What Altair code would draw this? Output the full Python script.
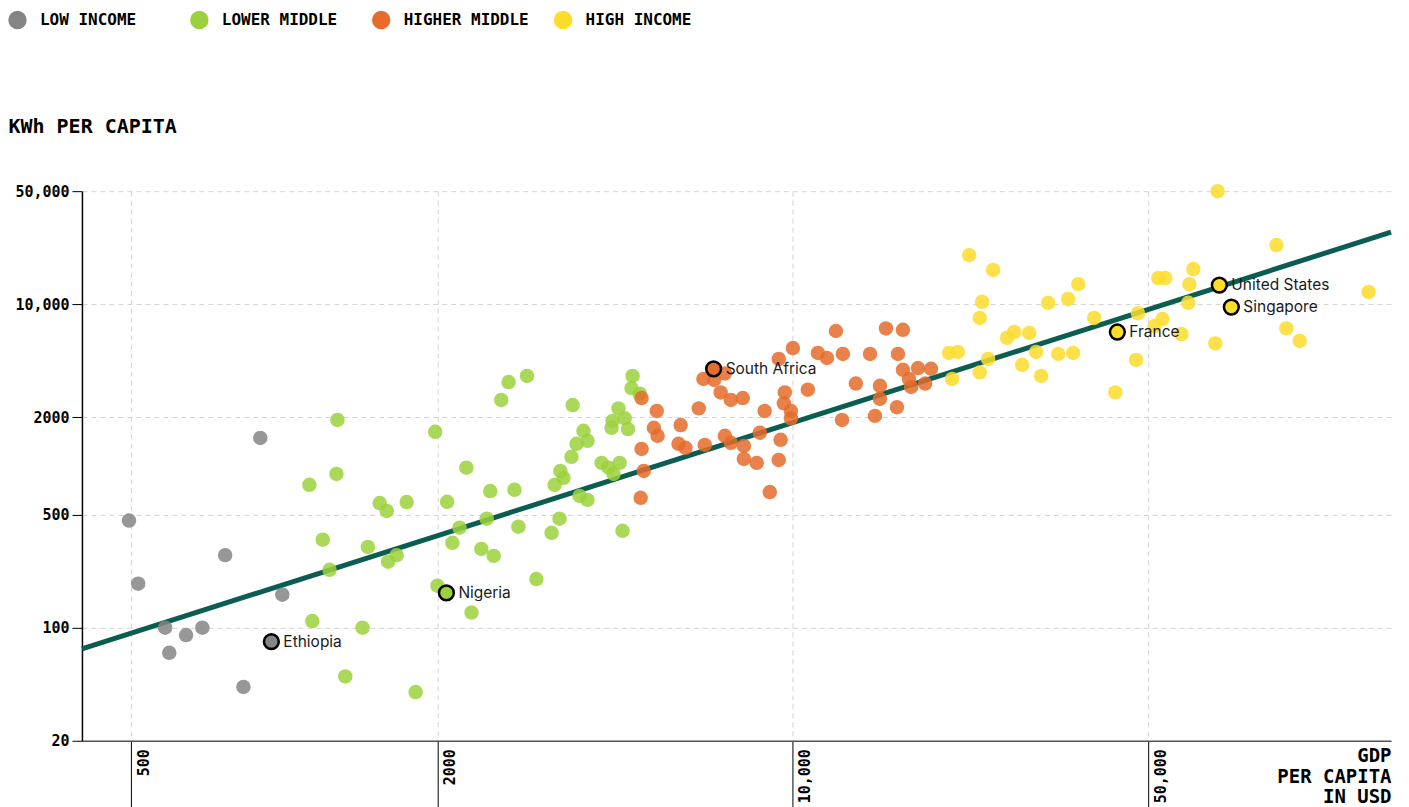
import altair as alt
import pandas as pd

MONO = "DejaVu Sans Mono"
SANS = "Inter"

groups = ["LOW INCOME", "LOWER MIDDLE", "HIGHER MIDDLE", "HIGH INCOME"]
group_colors = ["#858585", "#9bd13c", "#e56c2a", "#fddc2a"]

# GDP per capita (USD) and electricity use (kWh per capita)
low_gdp = [495, 516, 583, 641, 690, 594, 765, 831, 897, 991]
low_kwh = [460, 187, 100, 90, 100, 70, 281, 43, 1490, 160]

lowmid_gdp = [1272, 1980, 2760, 2670, 3000, 2280, 1266, 1120, 1540, 1590,
              1740, 2090, 2540, 2835, 2500, 2210, 2886, 1190, 1460, 1227,
              1600, 1663, 2140, 2000, 2440, 2580, 2334, 1135, 1425, 1318,
              1812, 3690, 4840, 4815, 5000, 4540, 4420, 4670, 4400, 4740,
              3874, 3946, 3755, 3670, 4206, 4342, 4565, 4440, 3490, 3540,
              3400, 3808, 3946, 3476, 3354, 4624, 3130]
lowmid_kwh = [1926, 1625, 3300, 2560, 3600, 975, 893, 765, 590, 527,
              598, 600, 700, 712, 472, 415, 421, 350, 316, 228,
              256, 281, 335, 182, 307, 278, 124, 110, 100, 50,
              40, 2380, 3600, 3030, 2800, 2270, 1900, 1970, 1720, 1690,
              1650, 1430, 1370, 1140, 1045, 975, 1045, 893, 932, 845,
              764, 653, 617, 472, 386, 397, 200]

highmid_gdp = [5040, 5400, 5330, 5420, 5040, 5090, 5020, 6016, 5960, 6150,
               6530, 6710, 6670, 7000, 7350, 7210, 7550, 7970, 7350, 7550,
               8010, 8010, 8490, 8800, 8610, 9008, 9380, 10000, 9640, 9600,
               9910, 9910, 9460, 9380, 10700, 11200, 12150, 11670, 12540, 14180,
               15240, 16460, 16090, 16460, 17620, 18690, 16920, 17080, 18200, 14830,
               14830, 13300, 16020, 14500, 12490]
highmid_kwh = [2630, 2190, 1720, 1535, 1275, 932, 635, 1790, 1370, 1295,
               2270, 1350, 3450, 3400, 3730, 2850, 2560, 2630, 1535, 1390,
               1330, 1105, 1045, 2190, 1605, 690, 4590, 5360, 2850, 2440,
               2190, 1970, 1450, 1090, 2960, 5000, 6830, 4650, 4930, 4930,
               7080, 6950, 4930, 3930, 4030, 3990, 3450, 3080, 3230, 3130,
               2600, 3230, 2310, 2040, 1926]

high_gdp = [22210, 24760, 23550, 23300, 36400, 34770, 31770, 39130, 47700, 27230,
            26370, 29150, 20280, 21100, 24200, 30080, 33250, 35570, 20560, 23300,
            28230, 30770, 47300, 43050, 68400, 89300, 61300, 52300, 54000, 60200,
            59900, 135500, 53300, 51400, 58080, 93400, 99200, 67700]
high_kwh = [20100, 16300, 10340, 8220, 13300, 10780, 10200, 8220, 8800, 6740,
            6200, 6640, 5000, 5070, 4590, 5070, 4930, 5000, 3450, 3790,
            4220, 3600, 4520, 2850, 50000, 23200, 16500, 14500, 14500, 13300,
            10200, 11900, 8100, 7330, 6540, 7090, 5930, 5720]

# Highlighted countries
lab_names = ["Ethiopia", "Nigeria", "South Africa", "France", "United States", "Singapore"]
lab_gdp = [943, 2083, 6985, 43450, 68950, 72800]
lab_kwh = [82, 164, 3980, 6730, 13130, 9600]
lab_group = ["LOW INCOME", "LOWER MIDDLE", "HIGHER MIDDLE", "HIGH INCOME", "HIGH INCOME", "HIGH INCOME"]

# Trend line end points
trend_gdp = [400, 150000]
trend_kwh = [74, 27900]

rows = []
for g, xs, ys in [(groups[0], low_gdp, low_kwh), (groups[1], lowmid_gdp, lowmid_kwh),
                  (groups[2], highmid_gdp, highmid_kwh), (groups[3], high_gdp, high_kwh)]:
    for a, b in zip(xs, ys):
        rows.append({"gdp": a, "kwh": b, "group": g})
df = pd.DataFrame(rows)
lab_df = pd.DataFrame({"name": lab_names, "gdp": lab_gdp, "kwh": lab_kwh, "group": lab_group})
trend_df = pd.DataFrame({"gdp": trend_gdp, "kwh": trend_kwh})

W, H = 1310, 550
num_expr = "datum.value >= 10000 ? format(datum.value, ',') : format(datum.value, 'd')"

xscale = alt.Scale(type="log", domain=[400, 150000], nice=False)
yscale = alt.Scale(type="log", domain=[20, 50000], nice=False)
cscale = alt.Scale(domain=groups, range=group_colors)

x_axis = alt.Axis(
    values=[500, 2000, 10000, 50000], labelExpr=num_expr,
    labelAngle=-90, labelAlign="right", labelBaseline="middle", labelOffset=12,
    labelPadding=-62, tickSize=70, tickColor="black", tickWidth=1,
    domainColor="#555555", domainWidth=1.5,
    grid=True, gridDash=[5, 4], gridColor="#d4d4d4", gridWidth=1,
    labelFont=MONO, labelFontSize=15, labelFontWeight="bold", labelColor="black",
    title=["GDP", "PER CAPITA", "IN USD"], titleAngle=0, titleAlign="right",
    titleBaseline="top", titleX=W, titleY=6, titleLineHeight=20.5,
    titleFont=MONO, titleFontSize=19, titleFontWeight="bold", titleColor="black",
)
y_axis = alt.Axis(
    values=[20, 100, 500, 2000, 10000, 50000], labelExpr=num_expr,
    tickSize=10, tickColor="black", domainColor="black", domainWidth=1.5,
    labelPadding=3,
    grid=True, gridDash=[5, 4], gridColor="#d4d4d4", gridWidth=1,
    labelFont=MONO, labelFontSize=15, labelFontWeight="bold", labelColor="black",
    title="KWh PER CAPITA", titleAngle=0, titleAlign="left", titleBaseline="middle",
    titleX=-74, titleY=-65,
    titleFont=MONO, titleFontSize=20, titleFontWeight="bold", titleColor="black",
)

legend = alt.Legend(
    title=None, orient="none", legendX=-74, legendY=-181, direction="horizontal",
    symbolType="circle", symbolSize=340, symbolOpacity=1, symbolStrokeWidth=0,
    labelFont=MONO, labelFontSize=16, labelFontWeight="bold", labelColor="black",
    labelOffset=13, columnPadding=24, gridAlign="all", padding=0,
)

trend = alt.Chart(trend_df).mark_line(color="#0b5d52", strokeWidth=5).encode(
    x=alt.X("gdp:Q", scale=xscale, axis=x_axis),
    y=alt.Y("kwh:Q", scale=yscale, axis=y_axis),
)

points = alt.Chart(df).mark_circle(size=210, opacity=0.85).encode(
    x=alt.X("gdp:Q", scale=xscale),
    y=alt.Y("kwh:Q", scale=yscale),
    color=alt.Color("group:N", scale=cscale, legend=legend),
)

lab_points = alt.Chart(lab_df).mark_circle(size=220, opacity=1, stroke="black", strokeWidth=2.5).encode(
    x=alt.X("gdp:Q", scale=xscale),
    y=alt.Y("kwh:Q", scale=yscale),
    color=alt.Color("group:N", scale=cscale, legend=legend),
)

lab_text = alt.Chart(lab_df).mark_text(align="left", baseline="middle", dx=12, font=SANS,
                                       fontSize=15.5, color="#1a1a1a").encode(
    x=alt.X("gdp:Q", scale=xscale),
    y=alt.Y("kwh:Q", scale=yscale),
    text="name:N",
)

chart = alt.layer(trend, points, lab_points, lab_text).properties(
    width=W, height=H, padding={"left": 0, "top": 2, "right": 0, "bottom": 0},
    background="white",
).configure_view(stroke=None)

chart.save("out.html", embed_options={"renderer": "svg", "actions": False})
